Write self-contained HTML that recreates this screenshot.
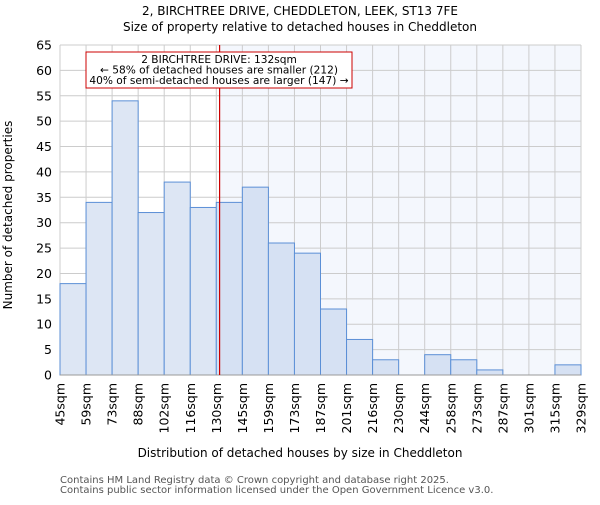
<!DOCTYPE html>
<html><head><meta charset="utf-8"><style>
body{margin:0;background:#fff;font-family:"Liberation Sans","DejaVu Sans",sans-serif}
</style></head><body>
<svg id="chart" width="600" height="500" xmlns="http://www.w3.org/2000/svg" font-family="DejaVu Sans, Liberation Sans, sans-serif">
<text x="300" y="15" text-anchor="middle" font-size="12">2, BIRCHTREE DRIVE, CHEDDLETON, LEEK, ST13 7FE</text>
<text x="300" y="31" text-anchor="middle" font-size="12">Size of property relative to detached houses in Cheddleton</text>
<g id="plot"></g>
<text x="300" y="457" text-anchor="middle" font-size="12">Distribution of detached houses by size in Cheddleton</text>
<text transform="translate(12,215) rotate(-90)" text-anchor="middle" font-size="12">Number of detached properties</text>
<text x="60" y="483" font-size="10" fill="#555">Contains HM Land Registry data © Crown copyright and database right 2025.</text>
<text x="60" y="493" font-size="10" fill="#555">Contains public sector information licensed under the Open Government Licence v3.0.</text>
</svg>
<script>
const tickLabels=["45sqm","59sqm","73sqm","88sqm","102sqm","116sqm","130sqm","145sqm","159sqm","173sqm","187sqm","201sqm","216sqm","230sqm","244sqm","258sqm","273sqm","287sqm","301sqm","315sqm","329sqm"];
const counts=[18,34,54,32,38,33,34,37,26,24,13,7,3,0,4,3,1,0,0,2];
const yTicks=[0,5,10,15,20,25,30,35,40,45,50,55,60,65];
const binStart=45, binWidth=14.2, subjectSize=132;
const X0=60,X1=581,Y0=375,Y1=45,yMax=65;
const nb=counts.length;
const xb=i=>X0+(X1-X0)*i/nb;
const xv=v=>X0+(X1-X0)*(v-binStart)/(binWidth*nb);
const y=v=>Y0-(Y0-Y1)*v/yMax;
const NS="http://www.w3.org/2000/svg";
const g=document.getElementById('plot');
function mk(t,a){const e=document.createElementNS(NS,t);for(const k in a)e.setAttribute(k,a[k]);g.appendChild(e);return e;}
const sx=xv(subjectSize);
let e=mk('rect',{x:sx,y:Y1,width:X1-sx,height:Y0-Y1,fill:'#f4f7fd'});


yTicks.forEach(t=>{
 let l=mk('line',{x1:X0,x2:X1,y1:y(t),y2:y(t),stroke:'#cccccc'});
 
 
 let tx=mk('text',{x:X0-8,y:y(t)+4.5,'text-anchor':'end','font-size':12.5});
 tx.textContent=t;
 
 
});
tickLabels.forEach((lb,i)=>{
 let l=mk('line',{x1:xb(i),x2:xb(i),y1:Y1,y2:Y0,stroke:'#cccccc'});
 
 
 let tx=mk('text',{transform:`translate(${xb(i)+4.5},${Y0+8}) rotate(-90)`,'text-anchor':'end','font-size':12.5});
 tx.textContent=lb;
 
 
});
counts.forEach((c,i)=>{
 if(c<=0)return;
 let r=mk('rect',{x:xb(i),y:y(c),width:xb(i+1)-xb(i),height:Y0-y(c),fill:xb(i+1)<=sx+1?'#dde6f4':'#d6e1f3',stroke:'#5b8fd6','stroke-width':1});
 
 
});
e=mk('line',{x1:X0,x2:X1,y1:Y0,y2:Y0,stroke:'#999'});


e=mk('line',{x1:sx,x2:sx,y1:Y1,y2:Y0,stroke:'#cc0000','stroke-width':1.2});


e=mk('rect',{x:86,y:52,width:266,height:36,fill:'#fff',stroke:'#cc0000'});


["2 BIRCHTREE DRIVE: 132sqm","← 58% of detached houses are smaller (212)","40% of semi-detached houses are larger (147) →"].forEach((s,i)=>{
 let t=mk('text',{x:219,y:63+i*10.5,'text-anchor':'middle','font-size':10.6});
 t.textContent=s;
 
 
});
</script>
</body></html>
